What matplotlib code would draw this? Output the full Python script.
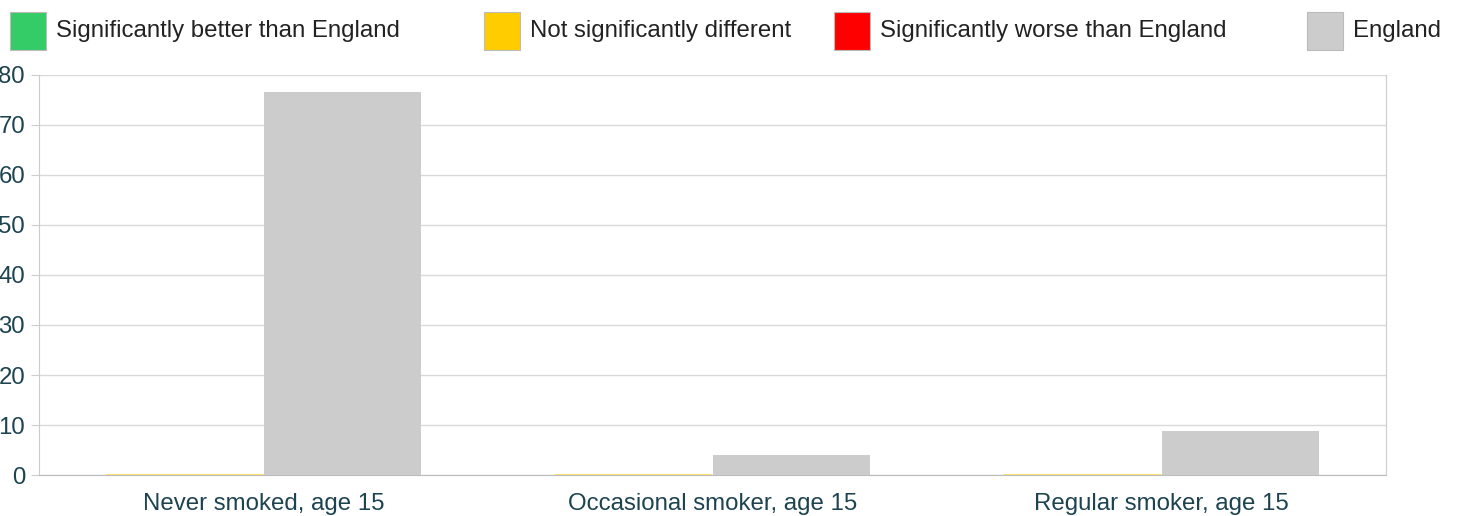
import numpy as np
import matplotlib.pyplot as plt
from matplotlib.patches import Rectangle

categories = ["Never smoked, age 15", "Occasional smoker, age 15", "Regular smoker, age 15"]
area_values = [0, 0, 0]
england_values = [76.6, 4.1, 8.8]

legend_labels = ["Significantly better than England", "Not significantly different",
                 "Significantly worse than England", "England"]
legend_colors = ["#33cc66", "#ffcc00", "#ff0000", "#cccccc"]

plt.rcParams['font.family'] = ['Liberation Sans', 'DejaVu Sans']
text_col = "#1d4350"
fs = 17.3

fig = plt.figure(figsize=(14.6, 5.16), dpi=100)
ax = fig.add_axes([39/1460, 1-475/516, (1386-39)/1460, 400/516])

x = np.arange(len(categories))
w = 0.35
ax.bar(x - w/2, area_values, width=w, color="#ffcc00", edgecolor="#ffdd55", linewidth=1.2, zorder=3)
ax.bar(x + w/2, england_values, width=w, color="#cccccc", zorder=3)

ax.set_xlim(-0.5, 2.5)
ax.set_ylim(0, 80)
ax.set_yticks(range(0, 81, 10))
ax.set_xticks(x)
ax.set_xticklabels(categories)
ax.yaxis.grid(True, color="#d9d9d9", linewidth=1, zorder=0)
ax.set_axisbelow(True)
for s in ["left", "right", "top", "bottom"]:
    ax.spines[s].set_color("#cccccc")
ax.spines["top"].set_visible(False)
ax.spines["bottom"].set_color("#bbbbbb")
ax.tick_params(axis="y", length=6, color="#cccccc", labelsize=fs, labelcolor=text_col, pad=4)
ax.tick_params(axis="x", length=0, labelsize=fs, labelcolor=text_col, pad=13)

# legend across top
sq_x = [10, 484, 834, 1307]
for px, lab, col in zip(sq_x, legend_labels, legend_colors):
    fig.patches.append(Rectangle((px/1460, 1-50/516), 36/1460, 38/516,
                                 transform=fig.transFigure, facecolor=col,
                                 edgecolor="#bbbbbb", linewidth=0.8))
    fig.text((px+46)/1460, 1-31/516, lab, fontsize=fs, color="#222222", va="center", ha="left")

fig.savefig("out.png", dpi=100)
